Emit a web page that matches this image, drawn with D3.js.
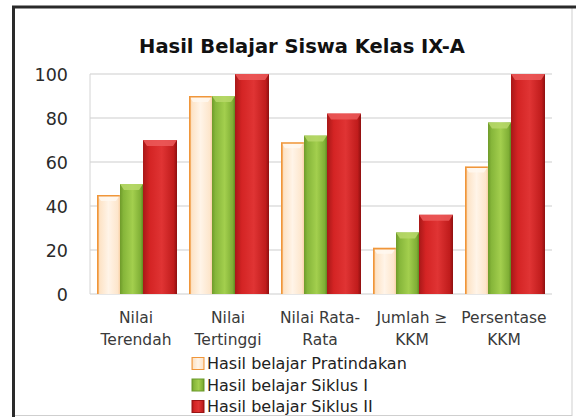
<!DOCTYPE html>
<html><head><meta charset="utf-8">
<script src="https://cdn.jsdelivr.net/npm/d3@7"></script>
<style>body{margin:0;background:#fff;}svg{display:block;}</style>
</head><body>
<svg id="c" width="576" height="417"></svg>
<script>
const categories = [["Nilai","Terendah"],["Nilai","Tertinggi"],["Nilai Rata-","Rata"],["Jumlah \u2265","KKM"],["Persentase","KKM"]];
const seriesNames = ["Hasil belajar Pratindakan","Hasil belajar Siklus I","Hasil belajar Siklus II"];
const pratindakan = [45, 90, 69, 21, 58];
const siklus1 = [50, 90, 72, 28, 78];
const siklus2 = [70, 100, 82, 36, 100];
const yTicks = [0, 20, 40, 60, 80, 100];
const title = "Hasil Belajar Siswa Kelas IX-A";

const series = [pratindakan, siklus1, siklus2];
const svg = d3.select("#c");
const font = "'DejaVu Sans', sans-serif";

// frame
svg.append("rect").attr("x",13.5).attr("y",7).attr("width",558.5).attr("height",408.5)
  .attr("fill","#fff").attr("stroke","#cfcfcf").attr("stroke-width",1);
svg.append("line").attr("x1",12).attr("x2",576).attr("y1",7).attr("y2",7).attr("stroke","#2a2a2a").attr("stroke-width",3);
svg.append("line").attr("x1",13.5).attr("x2",13.5).attr("y1",6).attr("y2",417).attr("stroke","#2a2a2a").attr("stroke-width",3);

const x = d3.scaleBand().domain(d3.range(categories.length)).range([90, 550]);
const y = d3.scaleLinear().domain([0,100]).range([294, 74]);

// defs gradients
const defs = svg.append("defs");
function grad(id, stops){
  const g = defs.append("linearGradient").attr("id",id).attr("x1","0").attr("x2","1").attr("y1","0").attr("y2","0");
  stops.forEach(s=>g.append("stop").attr("offset",s[0]).attr("stop-color",s[1]));
}
grad("g0",[[0,"#f7b77a"],[0.12,"#fde3c6"],[0.5,"#fff4e8"],[0.9,"#fde6cc"],[1,"#f9d2a8"]]);
grad("g1",[[0,"#6e9a2a"],[0.15,"#86b63a"],[0.55,"#a3cf4e"],[0.9,"#7fae35"],[1,"#5f8a22"]]);
grad("g2",[[0,"#a81818"],[0.2,"#d42424"],[0.55,"#e03434"],[0.9,"#c01c1c"],[1,"#8e1010"]]);
const capColors = ["#fff8f0","#b7d86a","#ec5a5a"];
const strokeColors = ["#f0963a","#6a9a2a","#9a1414"];

// grid
const g = svg.append("g");
g.selectAll("line.grid").data(yTicks).enter().append("line")
  .attr("x1",90).attr("x2",552).attr("y1",d=>y(d)).attr("y2",d=>y(d))
  .attr("stroke","#cdcdcd").attr("stroke-width",1.2);
g.append("line").attr("x1",90).attr("x2",90).attr("y1",y(100)).attr("y2",y(0)).attr("stroke","#d4d4d4");

// y labels
const yAxis = d3.axisLeft(y).tickValues(yTicks).tickSize(0).tickPadding(0);
const ya = svg.append("g").attr("transform","translate(68,0)").call(yAxis);
ya.select(".domain").remove();
ya.selectAll("text").attr("font-family",font).attr("font-size",17.5).attr("fill","#2a2a2a").attr("dy","0.36em");

// bars: offsets within band (fraction) and widths
const bw = x.bandwidth();
const offs = [7/92, 30/92, 53/92];
const wds = [23/92, 23/92, 34/92];
series.forEach((vals, si)=>{
  const gs = svg.append("g");
  gs.selectAll("rect.b").data(vals).enter().append("rect")
    .attr("x",(d,i)=>x(i)+offs[si]*bw).attr("width",wds[si]*bw)
    .attr("y",d=>y(d)).attr("height",d=>y(0)-y(d))
    .attr("fill",`url(#g${si})`);
  gs.selectAll("path.cap").data(vals).enter().append("path")
    .attr("d",(d,i)=>{const x0=x(i)+offs[si]*bw, w=wds[si]*bw, t=y(d);
      return `M${x0},${t}L${x0+w},${t}L${x0+w-4},${t+6}L${x0+4},${t+6}Z`;})
    .attr("fill",capColors[si]).attr("opacity",0.85);
  if(si===0){
    gs.selectAll("path.edge").data(vals).enter().append("path")
      .attr("d",(d,i)=>{const x0=x(i)+offs[si]*bw+0.8, w=wds[si]*bw, t=y(d)+0.8;
        return `M${x0},${y(0)}L${x0},${t}L${x0+w-1},${t}`;})
      .attr("fill","none").attr("stroke",strokeColors[0]).attr("stroke-width",1.6);
  }
});

// x labels
const xl = svg.append("g");
categories.forEach((c,i)=>{
  c.forEach((line,j)=>{
    xl.append("text").attr("x",x(i)+bw/2).attr("y",323+j*22).attr("text-anchor","middle")
      .attr("font-family",font).attr("font-size",15.5).attr("fill","#3a3a3a").text(line);
  });
});

// title
svg.append("text").attr("x",302).attr("y",53).attr("text-anchor","middle")
  .attr("font-family",font).attr("font-weight","bold").attr("font-size",19.5).attr("fill","#111").text(title);

// legend
const lg = svg.append("g");
seriesNames.forEach((n,i)=>{
  const yy = 363.5 + i*21.5;
  lg.append("rect").attr("x",192).attr("y",yy-6).attr("width",12).attr("height",12)
    .attr("fill",`url(#g${i})`).attr("stroke",strokeColors[i]).attr("stroke-width",1);
  lg.append("text").attr("x",207).attr("y",yy).attr("dy","0.36em")
    .attr("font-family",font).attr("font-size",16).attr("fill","#222").text(n);
});
</script>
</body></html>
